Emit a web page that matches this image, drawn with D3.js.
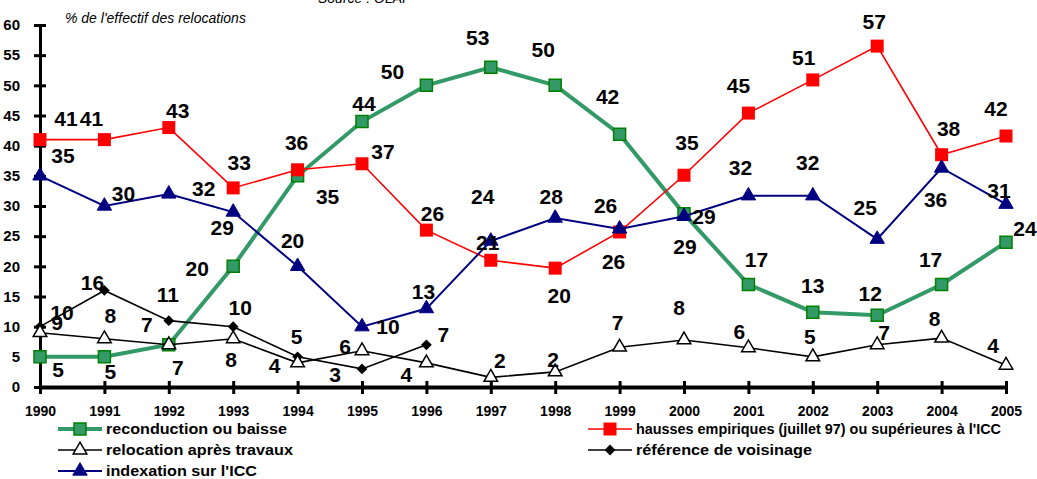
<!DOCTYPE html>
<head>
<meta charset="utf-8">
<script src="https://cdn.jsdelivr.net/npm/d3@7"></script>
<style>
body { margin: 0; background: #fff; }
text { font-family: Arial, "Liberation Sans", sans-serif; }
</style>
</head>
<body>
<script>
// data (plotted positions)
var years = [1990,1991,1992,1993,1994,1995,1996,1997,1998,1999,2000,2001,2002,2003,2004,2005];
var reconduction = [5,5,7,20,35,44,50,53,50,41.9,28.7,17,12.4,11.9,17,24];
var hausses = [41,41,43,33,36,37,26,21,19.7,25.7,35.1,45.4,50.9,56.5,38.5,41.6];
var indexation = [35,30,32,29,20,10,13,24.2,28,26.2,28.3,31.7,31.7,24.5,36.3,30.3];
var voisinage = [10,16,11,10,5,3,7];
var travaux = [9,8,7,8,4,6,4,1.6,2.5,6.6,7.8,6.5,5,7,8.1,3.6];
var yTicks = [0,5,10,15,20,25,30,35,40,45,50,55,60];

// printed value labels
var lblReconduction = [5,5,7,20,35,44,50,53,50,42,29,17,13,12,17,24];
var lblHausses = [41,41,43,33,36,37,26,21,20,26,35,45,51,57,38,42];
var lblIndexation = [35,30,32,29,20,10,13,24,28,26,29,32,32,25,36,31];
var lblVoisinage = [10,16,11,10,5,3,7];
var lblTravaux = [9,8,7,8,4,6,4,2,2,7,8,6,5,7,8,4];

// label offsets (text centre relative to point), as placed in the original
var offReconduction = [[18,13],[6,15],[9,23],[-36,2],[30,21],[2,-18],[-34,-14],[-13,-30],[-12,-36],[-12,-38],[1,33],[8,-25],[0,-27],[-7,-22],[-11,-25],[19,-14]];
var offHausses = [[26,-21],[-13,-21],[9,-17],[6,-25],[-1,-27],[21,-12],[6,-17],[-3,-18],[4,27],[-6,30],[3,-33],[-10,-28],[-9,-22],[-3,-25],[7,-26],[-10,-28]];
var offIndexation = [[23,-20],[19,-13],[35,-5],[-11,15],[-5,-26],[26,0],[-3,-17],[-8,-44],[-4,-22],[-14,-23],[20,0],[-8,-28],[-5,-33],[-12,-32],[-6,32],[-7,-14]];
var offVoisinage = [[22,-14],[-12,-8],[-1,-26],[7,-19],[-1,-20],[-27,6],[17,-10]];
var offTravaux = [[17,-10],[6,-23],[-22,-20],[-2,21],[-23,3],[-17,-4],[-20,12],[9,-17],[-2,-12],[-2,-25],[-5,-32],[-9,-16],[-3,-20],[7,-12],[-7,-20],[-13,-20]];

var width = 1037, height = 479;
var svg = d3.select("body").append("svg")
  .attr("width", width)
  .attr("height", height);

var x = d3.scaleLinear().domain([1990, 2005]).range([40, 1006]);
var y = d3.scaleLinear().domain([0, 60]).range([387, 25]);

// header texts
svg.append("text").attr("x", 318).attr("y", 2.5)
  .style("font-size", "14px").style("font-style", "italic")
  .text("Source : OLAI");
svg.append("text").attr("x", 65).attr("y", 23)
  .style("font-size", "14px").style("font-style", "italic")
  .text("% de l'effectif des relocations");

// y axis
var gy = svg.append("g").attr("transform", "translate(40,0)")
  .call(d3.axisLeft(y).tickValues(yTicks).tickSize(6).tickSizeOuter(0).tickPadding(14));
gy.select(".domain").attr("stroke-width", 3);
gy.selectAll(".tick line").attr("x1", -6).attr("x2", 6).attr("stroke-width", 3);
gy.selectAll(".tick text").style("font-size", "15px").style("font-weight", "bold")
  .style("font-family", "Arial, 'Liberation Sans', sans-serif");

// x axis
var gx = svg.append("g").attr("transform", "translate(0,387)")
  .call(d3.axisBottom(x).tickValues(years).tickFormat(d3.format("d")).tickSize(7).tickSizeOuter(0).tickPadding(12));
gx.select(".domain").attr("stroke-width", 4);
gx.selectAll(".tick line").attr("y1", -6).attr("y2", 7).attr("stroke-width", 3);
gx.selectAll(".tick text").style("font-size", "14px").style("font-weight", "bold")
  .style("font-family", "Arial, 'Liberation Sans', sans-serif");

var series = [
  {name: "reconduction ou baisse", values: reconduction, labels: lblReconduction, off: offReconduction, line: "#339966", lw: 4,
   shape: d3.symbolSquare, size: 144, rot: 0, fill: "#339966", stroke: "#008000", sw: 1.5},
  {name: "hausses empiriques (juillet 97) ou supérieures à l'ICC", values: hausses, labels: lblHausses, off: offHausses, line: "#ff0000", lw: 1.6,
   shape: d3.symbolSquare, size: 169, rot: 0, fill: "#ff0000", stroke: "#ff0000", sw: 0},
  {name: "référence de voisinage", values: voisinage, labels: lblVoisinage, off: offVoisinage, line: "#000000", lw: 1.6,
   shape: d3.symbolSquare, size: 58, rot: 45, fill: "#000000", stroke: "#000000", sw: 0},
  {name: "relocation après travaux", values: travaux, labels: lblTravaux, off: offTravaux, line: "#000000", lw: 1.6,
   shape: d3.symbolTriangle, size: 80, rot: 0, fill: "#ffffff", stroke: "#000000", sw: 1.5},
  {name: "indexation sur l'ICC", values: indexation, labels: lblIndexation, off: offIndexation, line: "#000080", lw: 2,
   shape: d3.symbolTriangle, size: 90, rot: 0, fill: "#000080", stroke: "#000080", sw: 1}
];

var line = d3.line().x(function(d) {return x(d[0]);}).y(function(d) {return y(d[1]);});

series.forEach(function(s) {
  var pts = s.values.map(function(v, i) {return [years[i], v];});
  svg.append("path").datum(pts)
    .attr("d", line)
    .attr("fill", "none")
    .attr("stroke", s.line)
    .attr("stroke-width", s.lw);
  svg.selectAll(null).data(pts).enter().append("path")
    .attr("d", d3.symbol().type(s.shape).size(s.size))
    .attr("transform", function(d) {return "translate(" + x(d[0]) + "," + y(d[1]) + ") rotate(" + s.rot + ")";})
    .attr("fill", s.fill)
    .attr("stroke", s.stroke)
    .attr("stroke-width", s.sw);
});

// data labels on top
series.forEach(function(s) {
  svg.selectAll(null).data(s.values).enter().append("text")
    .attr("x", function(d, i) {return x(years[i]) + s.off[i][0];})
    .attr("y", function(d, i) {return y(d) + s.off[i][1];})
    .attr("text-anchor", "middle")
    .attr("dominant-baseline", "central")
    .style("font-size", "21px")
    .style("font-weight", "bold")
    .text(function(d, i) {return s.labels[i];});
});

// legend
var legend = [
  {s: series[0], x: 58, y: 429, len: 181},
  {s: series[1], x: 588, y: 429, len: 365},
  {s: series[3], x: 58, y: 450, len: 187},
  {s: series[2], x: 588, y: 450, len: 176},
  {s: series[4], x: 58, y: 471, len: 151}
];
legend.forEach(function(l) {
  var g = svg.append("g").attr("transform", "translate(" + l.x + "," + l.y + ")");
  g.append("line").attr("x1", 0).attr("x2", 44).attr("y1", 0).attr("y2", 0)
    .attr("stroke", l.s.line).attr("stroke-width", l.s.lw);
  g.append("path").attr("d", d3.symbol().type(l.s.shape).size(l.s.size))
    .attr("transform", "translate(22,0) rotate(" + l.s.rot + ")")
    .attr("fill", l.s.fill).attr("stroke", l.s.stroke).attr("stroke-width", l.s.sw);
  g.append("text").attr("x", 48).attr("y", 5)
    .attr("textLength", l.len).attr("lengthAdjust", "spacingAndGlyphs")
    .style("font-size", "15px").style("font-weight", "bold")
    .text(l.s.name);
});
</script>
</body>
